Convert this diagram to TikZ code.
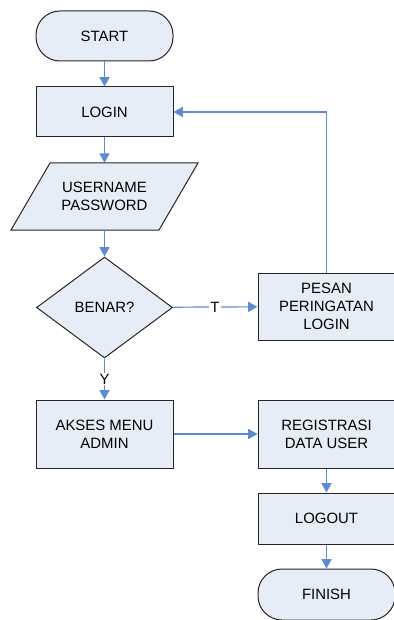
\documentclass[tikz,border=0pt]{standalone}
\usepackage{fontspec}
\setmainfont{Liberation Sans}
\usetikzlibrary{shapes.geometric, arrows.meta}
\definecolor{boxfill}{HTML}{E7EDF7}
\definecolor{linkblue}{HTML}{5B8BD0}

\begin{document}
\begin{tikzpicture}[
        x=0.75pt, y=-0.75pt,
        every node/.style={font=\fontsize{11.2}{13.5}\selectfont, align=center},
        outline/.style={draw=black!85, fill=boxfill, line width=0.75pt},
        box/.style={outline, rectangle, minimum width=102.75pt, inner sep=0pt},
        terminal/.style={box, rounded corners=18pt, minimum height=37.5pt},
        decision/.style={outline, diamond, minimum width=102pt, minimum height=75.75pt, inner sep=0pt},
        link/.style={draw=linkblue, line width=0.9pt, -{Triangle[length=7pt, width=7.5pt]}},
        tag/.style={fill=white, inner sep=1pt}
    ]
        \useasboundingbox (0,0) rectangle (393,620);

        % Kolom kiri
        \node[terminal] (start) at (104.5, 36) {START};
        \node[box, minimum height=37.5pt] (login) at (104.5, 112) {LOGIN};
        % Jajaran genjang untuk input
        \draw[outline] (11, 230) -- (50, 163) -- (198, 163) -- (159, 230) -- cycle;
        \node[minimum width=111pt, minimum height=50.25pt, inner sep=0pt] (input) at (104.5, 196.5) {USERNAME\\PASSWORD};
        \node[decision] (benar) at (104.5, 307.5) {BENAR?};
        \node[box, minimum height=51pt] (akses) at (104.5, 434) {AKSES MENU\\ADMIN};

        % Kolom kanan
        \node[box, minimum height=50.25pt] (pesan) at (326.5, 306.5) {PESAN\\PERINGATAN\\LOGIN};
        \node[box, minimum height=51pt] (registrasi) at (326.5, 434) {REGISTRASI\\DATA USER};
        \node[box, minimum height=38.25pt] (logout) at (326.5, 518.5) {LOGOUT};
        \node[terminal, minimum height=38.25pt] (finish) at (326.5, 594.5) {FINISH};

        % Alur
        \draw[link] (start) -- (login);
        \draw[link] (login) -- (input);
        \draw[link] (input) -- (benar);
        \draw[link] (benar) -- node[tag] {T} (pesan);
        \draw[link] (pesan.north) |- (login.east);
        \draw[link] (benar) -- node[tag] {Y} (akses);
        \draw[link] (akses) -- (registrasi);
        \draw[link] (registrasi) -- (logout);
        \draw[link] (logout) -- (finish);
    \end{tikzpicture}
\end{document}
